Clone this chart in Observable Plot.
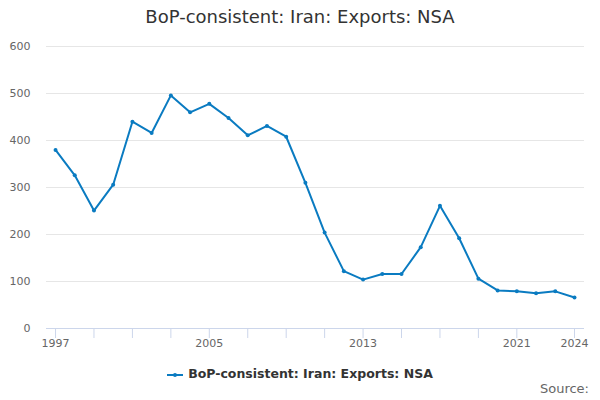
<!DOCTYPE html>
<html>
<head>
<meta charset="utf-8">
<script src="https://cdn.jsdelivr.net/npm/d3@7"></script>
<script src="https://cdn.jsdelivr.net/npm/@observablehq/plot@0.6"></script>
<style>
  html, body { margin: 0; padding: 0; background: #fff; }
  body { width: 600px; height: 400px; position: relative; font-family: "DejaVu Sans", sans-serif; overflow: hidden; }
  #title { position: absolute; top: 6px; left: 0; width: 600px; text-align: center; font-size: 18px; color: #333; }
  #chart { position: absolute; top: 37px; left: 0; }
  #legend { position: absolute; top: 366px; left: 0; width: 600px; text-align: center; font-size: 12.5px; font-weight: bold; color: #333; }
  #legend svg { vertical-align: middle; margin-right: 5px; }
  #source { position: absolute; top: 381px; right: 11px; font-size: 13px; color: #666; }
</style>
</head>
<body>
<div id="title">BoP-consistent: Iran: Exports: NSA</div>
<div id="chart"></div>
<div id="legend"><svg width="16" height="8"><line x1="0" y1="4" x2="16" y2="4" stroke="#0a7bc1" stroke-width="2"/><circle cx="8" cy="4" r="2" fill="#0a7bc1"/></svg>BoP-consistent: Iran: Exports: NSA</div>
<div id="source">Source:</div>
<script>
const years = [1997,1998,1999,2000,2001,2002,2003,2004,2005,2006,2007,2008,2009,2010,2011,2012,2013,2014,2015,2016,2017,2018,2019,2020,2021,2022,2023,2024];
const values = [380,326,251,306,440,416,496,460,478,448,411,431,408,310,204,122,104,116,116,173,261,192,106,81,79,75,79,66];
const xTicks = [1997,1999,2001,2003,2005,2007,2009,2011,2013,2015,2017,2019,2021,2024];
const xLabels = [1997,2005,2013,2021,2024];
const yTicks = [0,100,200,300,400,500,600];

const data = years.map((y, i) => ({year: y, value: values[i]}));
const color = "#0a7bc1";

const chart = Plot.plot({
  width: 600,
  height: 320,
  marginLeft: 46,
  marginRight: 16,
  marginTop: 9,
  marginBottom: 29,
  style: {fontFamily: "DejaVu Sans, sans-serif", fontSize: "11px", color: "#666", background: "#fff"},
  x: {type: "linear", domain: [1996.53, 2024.52]},
  y: {domain: [0, 600]},
  marks: [
    Plot.ruleY(yTicks.filter(d => d > 0), {stroke: "#e6e6e6", strokeWidth: 1}),
    Plot.ruleY([0], {stroke: "#ccd6eb", strokeWidth: 1}),
    Plot.axisY({ticks: yTicks, tickSize: 0, tickPadding: 16, tickFormat: d => String(d), label: null, fill: "#666", fontSize: 11}),
    Plot.axisX({ticks: xTicks, tickSize: 10, tickPadding: 1, stroke: "#ccd6eb",
      tickFormat: d => xLabels.includes(d) ? String(d) : "", label: null, fill: "#666", fontSize: 11}),
    Plot.line(data, {x: "year", y: "value", stroke: color, strokeWidth: 2}),
    Plot.dot(data, {x: "year", y: "value", fill: color, r: 2})
  ]
});
document.getElementById("chart").appendChild(chart);
</script>
</body>
</html>
